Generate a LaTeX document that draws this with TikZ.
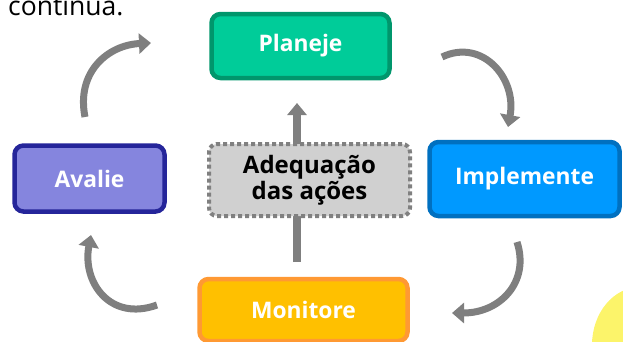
\documentclass[tikz,border=0pt]{standalone}
\usepackage{fontspec}
\setmainfont{Open Sans}
\usetikzlibrary{arrows.meta,backgrounds,positioning}

\definecolor{plangreen}{HTML}{00CC99}
\definecolor{planborder}{HTML}{00966C}
\definecolor{implblue}{HTML}{0099FF}
\definecolor{implborder}{HTML}{0070C0}
\definecolor{avalviolet}{HTML}{8585DE}
\definecolor{avalborder}{HTML}{25259A}
\definecolor{monyellow}{HTML}{FFC000}
\definecolor{monborder}{HTML}{FF9933}
\definecolor{adqgray}{HTML}{D0D0D0}
\definecolor{adqborder}{HTML}{808080}
\definecolor{arrgray}{HTML}{7F7F7F}
\definecolor{blobyellow}{HTML}{FCF46A}

\begin{document}
\begin{tikzpicture}[x=1pt,y=-1pt,
                    stepbox/.style={rounded corners=9pt, line width=4.5pt, text=white,
                      font=\fontsize{22.8}{26}\selectfont\bfseries},
                    cyclearrow/.style={line width=7pt, arrgray,
                      -{Triangle[length=12pt,width=20pt]}}]

  \useasboundingbox (0,0) rectangle (623,341);
  \clip (0,0) rectangle (623,341);

  % text of the page above and the picture at the right
  \node[anchor=base west, inner sep=0pt, font=\fontsize{26.5}{30}\selectfont] at (8,15) (cont) {contínua.};
  \fill[blobyellow] (640,345) ellipse (48pt and 58pt);

  \node[stepbox, fill=plangreen, draw=planborder, minimum width=178pt, minimum height=64pt]
        at (300.5,46)  (plan) {Planeje};
  \node[stepbox, fill=implblue, draw=implborder, minimum width=190pt, minimum height=74pt]
        at (524.5,179) (impl) {Implemente};
  \node[stepbox, fill=monyellow, draw=monborder, minimum width=208pt, minimum height=62pt]
        at (303.5,310) (mon)  {Monitore};
  \node[stepbox, fill=avalviolet, draw=avalborder, minimum width=150pt, minimum height=66pt]
        at (89.5,178.5) (aval) {Avalie};
  \node[rounded corners=8pt, line width=4pt, fill=adqgray, draw=adqborder,
        dash pattern=on 4pt off 3pt, minimum width=201pt, minimum height=72pt,
        align=center, font=\fontsize{24}{26}\selectfont\bfseries]
        at (309.5,180) (adq)  {Adequação\\das ações};

  % arrow through the middle
  \coordinate (midlow)  at (297,262);
  \coordinate (midhigh) at (297,103);
  \begin{scope}[on background layer]
    \draw[line width=8pt, arrgray, -{Triangle[length=12pt,width=19pt]}] (midlow) -- (midhigh);
  \end{scope}

  % curved arrows of the cycle
  \coordinate (tlA) at (85,117);  \coordinate (tlB) at (151,43);
  \coordinate (trA) at (442,57);  \coordinate (trB) at (508,127);
  \coordinate (brA) at (517,242); \coordinate (brB) at (452,313);
  \coordinate (blA) at (157,305); \coordinate (blB) at (91,235);

  \draw[cyclearrow] (tlA) .. controls (76,72) and (108,45) .. (tlB);
  \draw[cyclearrow] (trA) .. controls (482,38) and (517,78) .. (trB);
  \draw[cyclearrow] (brA) .. controls (530,282) and (500,313) .. (brB);
  \draw[cyclearrow] (blA) .. controls (110,322) and (82,282) .. (blB);

\end{tikzpicture}
\end{document}
